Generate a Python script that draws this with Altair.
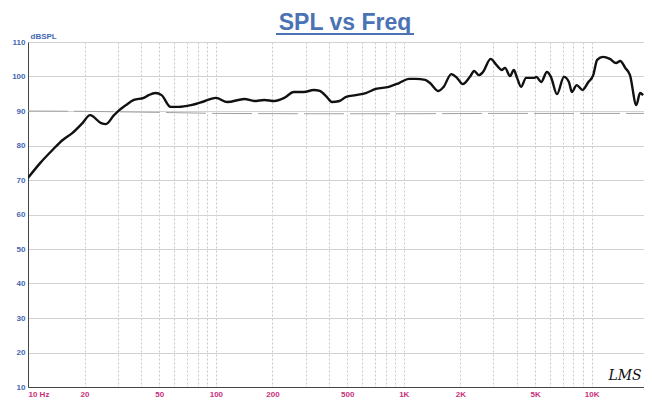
import altair as alt
import pandas as pd

# Measured SPL curve (Hz, dB SPL)
freq = [10, 11.6, 13.5, 15.3, 17.2, 19.5, 21.4, 24.5, 26.0, 28.7, 29.8, 33.2, 36.6,
        41.3, 43.9, 47.7, 51.4, 57.4, 63.4, 73.7, 87.5, 100, 115, 142, 160, 181,
        205, 231, 260, 294, 332, 357, 389, 414, 455, 494, 556, 628, 710, 833, 944,
        1066, 1157, 1300, 1380, 1530, 1630, 1790, 1920, 2060, 2250, 2370, 2510,
        2640, 2900, 3120, 3330, 3460, 3680, 3850, 4010, 4210, 4480, 4960, 5080,
        5390, 5780, 6070, 6540, 7120, 7570, 7850, 8330, 8940, 9610, 10200, 10700,
        11500, 12500, 13500, 14200, 15100, 16000, 17300, 18100, 18800]
spl = [70.6, 74.9, 78.7, 81.6, 83.6, 86.5, 88.8, 86.5, 86.2, 88.8, 89.7, 91.7, 93.2,
       93.8, 94.6, 95.2, 94.6, 91.2, 91.2, 91.7, 92.9, 93.8, 92.6, 93.5, 92.9, 93.2,
       92.9, 93.8, 95.5, 95.5, 96.1, 95.8, 94.1, 92.6, 92.9, 94.1, 94.6, 95.2, 96.4,
       97.0, 98.1, 99.3, 99.3, 99.0, 98.1, 95.8, 97.0, 100.7, 99.6, 97.8, 99.9,
       101.6, 100.4, 101.3, 105.1, 103.3, 101.9, 102.5, 100.1, 101.9, 99.6, 97.0,
       99.6, 99.6, 99.9, 98.4, 101.3, 99.9, 94.9, 99.9, 98.4, 95.5, 97.5, 96.1,
       98.4, 100.4, 104.8, 105.7, 105.1, 103.9, 104.5, 102.5, 100.4, 91.7, 95.2, 94.6]

# Faint reference trace near 90 dB
ref_freq = [10, 20, 50, 100, 300, 1000, 3000, 10000, 19000]
ref_spl = [90.0, 89.9, 89.6, 89.3, 89.2, 89.2, 89.3, 89.3, 89.3]

# Axis ticks
grid_freqs = [m * d for d in (10, 100, 1000) for m in range(1, 10)] + [10000]
major_labels = {10: "10  Hz", 20: "20", 50: "50", 100: "100", 200: "200", 500: "500",
                1000: "1K", 2000: "2K", 5000: "5K", 10000: "10K"}
y_ticks = [10, 20, 30, 40, 50, 60, 70, 80, 90, 100, 110]

label_expr = " : ".join(f"datum.value == {k} ? '{v}'" for k, v in major_labels.items()) + " : ''"

curve = pd.DataFrame({"freq": freq, "spl": spl})
ref = pd.DataFrame({"freq": ref_freq, "spl": ref_spl})
one = pd.DataFrame({"a": [0]})

FONT = "Liberation Sans"
BLUE = "#3f69b3"
MAGENTA = "#c8307a"

xs = alt.Scale(type="log", domain=[10, 19000], nice=False)
ys = alt.Scale(domain=[10, 110], nice=False)

x_axis = alt.Axis(values=grid_freqs, labelExpr=label_expr, grid=True, gridDash=[2, 2],
                  gridColor="#c8c8c8", ticks=False, labelColor=MAGENTA, labelFont=FONT,
                  labelFontWeight="bold", labelFontSize=8, labelPadding=3,
                  labelFlush=True, labelOverlap=False, domainColor="#444", title=None)
y_axis = alt.Axis(values=y_ticks, tickCount=11, grid=True, gridColor="#d2d2d2", ticks=False,
                  labelColor=BLUE, labelFont=FONT, labelFontWeight="bold", labelFontSize=8,
                  labelPadding=3, labelOverlap=False, domainColor="#444", title="dBSPL",
                  titleAngle=0, titleAlign="left", titleBaseline="bottom", titleX=2,
                  titleY=-2, titleFontSize=8, titleFont=FONT, titleFontWeight="bold",
                  titleColor=BLUE)

ref_line = alt.Chart(ref).mark_line(color="#a0a0a0", strokeWidth=1, strokeDash=[40, 6],
                                    clip=True).encode(
    x=alt.X("freq:Q", scale=xs, axis=x_axis),
    y=alt.Y("spl:Q", scale=ys, axis=y_axis),
)

main_line = alt.Chart(curve).mark_line(color="#111111", strokeWidth=2.4, clip=True,
                                       interpolate="monotone").encode(
    x=alt.X("freq:Q", scale=xs, axis=x_axis),
    y=alt.Y("spl:Q", scale=ys, axis=y_axis),
)

title = alt.Chart(one).mark_text(text="SPL vs Freq", font=FONT, fontSize=23,
                                 fontWeight="bold", color="#4a72b4", align="center",
                                 baseline="alphabetic").encode(
    x=alt.value(317), y=alt.value(-12))
underline = alt.Chart(one).mark_rule(color="#4a72b4", strokeWidth=2).encode(
    x=alt.value(248), x2=alt.value(386), y=alt.value(-8))
sig = alt.Chart(one).mark_text(text="LMS", font="DejaVu Serif", fontSize=14,
                               fontStyle="italic", color="#111", align="center",
                               baseline="middle").encode(
    x=alt.value(597), y=alt.value(334))

chart = alt.layer(ref_line, main_line, title, underline, sig).properties(
    width=616, height=345,
    autosize=alt.AutoSizeParams(type="none"),
    padding={"left": 20, "top": 34, "right": 0, "bottom": 13},
).configure_view(stroke="#444", strokeWidth=1.5).configure(background="white")

chart.save("out.html", embed_options={"renderer": "svg", "actions": False})
